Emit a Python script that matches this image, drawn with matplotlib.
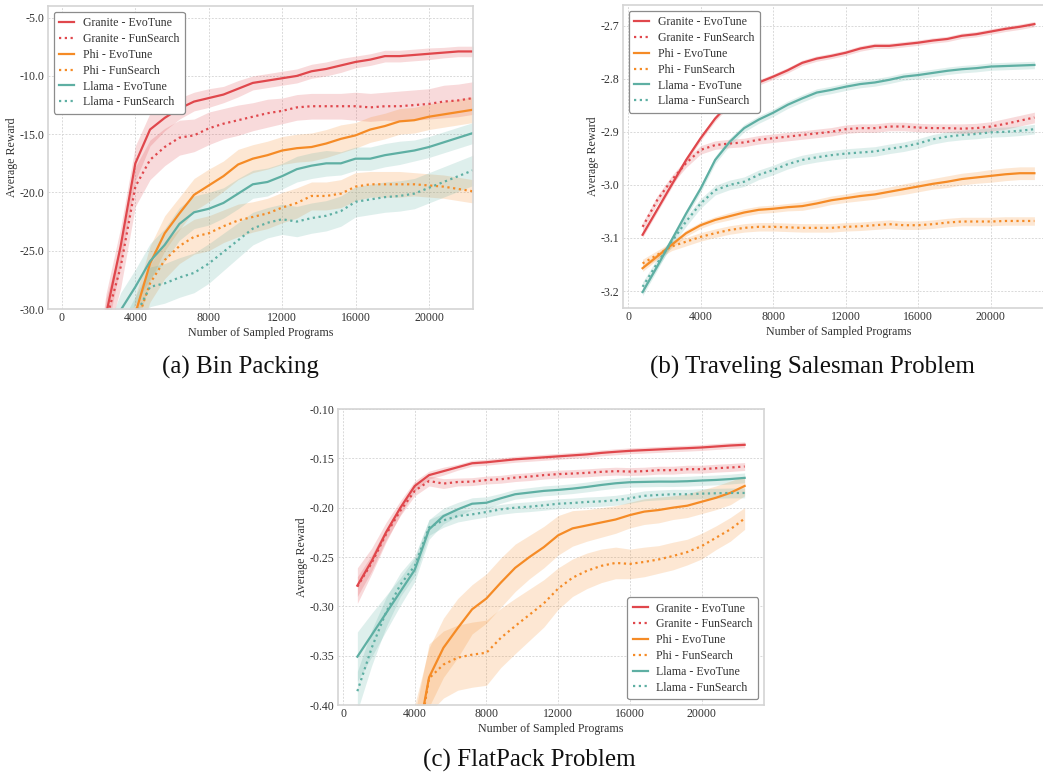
import matplotlib
matplotlib.use("Agg")
import matplotlib.pyplot as plt
from matplotlib.ticker import FormatStrFormatter

plt.rcParams['font.family'] = ['Liberation Serif', 'DejaVu Serif']
plt.rcParams['axes.unicode_minus'] = False

# ---------------- data ----------------
steps = [800, 1600, 2400, 3200, 4000, 4800, 5600, 6400, 7200, 8000, 8800, 9600, 10400, 11200,
         12000, 12800, 13600, 14400, 15200, 16000, 16800, 17600, 18400, 19200, 20000, 20800, 21600, 22400]

labels = ["Granite - EvoTune", "Granite - FunSearch", "Phi - EvoTune",
          "Phi - FunSearch", "Llama - EvoTune", "Llama - FunSearch"]

# (a) Bin Packing
bin_granite_evo = [-48.0, -40.0, -30.5, -24.6, -17.5, -14.6, -13.6, -12.8, -12.2, -11.9, -11.6, -11.1, -10.6, -10.4,
                   -10.2, -10.0, -9.6, -9.4, -9.1, -8.8, -8.6, -8.3, -8.3, -8.2, -8.1, -8.0, -7.9, -7.9]
bin_granite_fun = [-50.0, -42.0, -31.0, -26.4, -19.5, -17.2, -16.1, -15.3, -15.1, -14.5, -14.1, -13.8, -13.5, -13.2,
                   -13.0, -12.7, -12.6, -12.6, -12.6, -12.6, -12.7, -12.6, -12.6, -12.5, -12.4, -12.2, -12.1, -11.9]
bin_phi_evo = [-60.0, -52.0, -44.0, -37.0, -30.4, -26.1, -23.5, -21.8, -20.2, -19.4, -18.6, -17.6, -17.1, -16.8,
               -16.4, -16.2, -16.1, -15.8, -15.4, -15.1, -14.6, -14.3, -13.9, -13.8, -13.5, -13.3, -13.1, -12.9]
bin_phi_fun = [-62.0, -54.0, -46.0, -38.0, -31.5, -27.8, -25.8, -24.6, -23.8, -23.5, -22.9, -22.4, -22.1, -21.8,
               -21.3, -20.9, -20.3, -20.3, -20.1, -19.5, -19.3, -19.3, -19.3, -19.3, -19.4, -19.5, -19.7, -19.9]
bin_llama_evo = [-40.0, -37.0, -33.5, -30.1, -28.1, -25.9, -24.5, -22.7, -21.7, -21.4, -20.9, -20.1, -19.3, -19.1,
                 -18.6, -18.0, -17.7, -17.5, -17.5, -17.1, -17.1, -16.8, -16.6, -16.4, -16.1, -15.7, -15.3, -14.9]
bin_llama_fun = [-45.0, -41.0, -37.0, -33.0, -30.6, -28.1, -27.8, -27.3, -26.9, -26.1, -25.1, -24.1, -23.1, -22.6,
                 -22.3, -22.5, -22.2, -22.0, -21.6, -20.8, -20.6, -20.4, -20.3, -20.1, -19.6, -19.1, -18.6, -18.1]

bin_granite_evo_sd = [2.0, 2.0, 1.8, 1.6, 1.5, 1.4, 1.1, 0.9, 0.8, 0.8, 0.7, 0.7, 0.6, 0.6,
                      0.6, 0.6, 0.6, 0.6, 0.6, 0.5, 0.5, 0.5, 0.5, 0.5, 0.5, 0.45, 0.45, 0.45]
bin_granite_fun_sd = [2.0, 2.0, 1.9, 1.8, 1.7, 1.7, 1.6, 1.5, 1.4, 1.4, 1.3, 1.3, 1.2, 1.2,
                      1.1, 1.1, 1.1, 1.1, 1.1, 1.2, 1.2, 1.2, 1.3, 1.3, 1.3, 1.4, 1.4, 1.4]
bin_phi_evo_sd = [1.5, 1.5, 1.5, 1.5, 1.5, 1.5, 1.5, 1.4, 1.4, 1.4, 1.3, 1.3, 1.2, 1.2,
                  1.2, 1.2, 1.2, 1.2, 1.2, 1.1, 1.1, 1.1, 1.1, 1.1, 1.1, 1.1, 1.1, 1.1]
bin_phi_fun_sd = [1.6, 1.6, 1.6, 1.6, 1.6, 1.6, 1.6, 1.5, 1.5, 1.5, 1.4, 1.4, 1.3, 1.3,
                  1.3, 1.3, 1.2, 1.2, 1.2, 1.2, 1.1, 1.1, 1.1, 1.0, 1.0, 1.0, 1.0, 1.0]
bin_llama_evo_sd = [1.5, 1.5, 1.5, 1.5, 1.5, 1.5, 1.4, 1.4, 1.4, 1.4, 1.3, 1.3, 1.2, 1.2,
                    1.1, 1.1, 1.1, 1.1, 1.0, 1.0, 1.0, 1.0, 1.0, 0.9, 0.9, 0.9, 0.9, 0.9]
bin_llama_fun_sd = [1.7, 1.7, 1.7, 1.7, 1.7, 1.7, 1.7, 1.7, 1.7, 1.7, 1.6, 1.5, 1.4, 1.3,
                    1.3, 1.3, 1.3, 1.3, 1.3, 1.3, 1.3, 1.3, 1.3, 1.3, 1.3, 1.3, 1.3, 1.3]

# (b) Traveling Salesman Problem
tsp_granite_evo = [-3.094, -3.047, -3.000, -2.953, -2.912, -2.875, -2.846, -2.822, -2.807, -2.796, -2.784, -2.770,
                   -2.762, -2.757, -2.751, -2.743, -2.738, -2.738, -2.735, -2.732, -2.728, -2.725, -2.719, -2.716,
                   -2.711, -2.706, -2.702, -2.697]
tsp_granite_fun = [-3.079, -3.029, -2.991, -2.959, -2.934, -2.925, -2.922, -2.920, -2.915, -2.912, -2.909, -2.906,
                   -2.903, -2.900, -2.895, -2.893, -2.893, -2.890, -2.890, -2.892, -2.893, -2.893, -2.894, -2.893,
                   -2.890, -2.885, -2.879, -2.873]
tsp_phi_evo = [-3.157, -3.135, -3.113, -3.091, -3.076, -3.066, -3.059, -3.052, -3.047, -3.045, -3.042, -3.040,
               -3.035, -3.029, -3.025, -3.021, -3.018, -3.013, -3.008, -3.003, -2.998, -2.994, -2.989, -2.986,
               -2.983, -2.980, -2.978, -2.978]
tsp_phi_fun = [-3.148, -3.132, -3.116, -3.107, -3.098, -3.091, -3.085, -3.081, -3.079, -3.079, -3.080, -3.081,
               -3.081, -3.081, -3.079, -3.078, -3.076, -3.074, -3.076, -3.076, -3.074, -3.071, -3.069, -3.069,
               -3.069, -3.068, -3.068, -3.068]
tsp_llama_evo = [-3.202, -3.154, -3.104, -3.054, -3.007, -2.953, -2.919, -2.893, -2.877, -2.864, -2.849, -2.837,
                 -2.826, -2.821, -2.815, -2.810, -2.807, -2.802, -2.796, -2.793, -2.789, -2.785, -2.782, -2.780,
                 -2.777, -2.776, -2.775, -2.774]
tsp_llama_fun = [-3.192, -3.148, -3.107, -3.069, -3.035, -3.010, -3.000, -2.994, -2.981, -2.972, -2.961, -2.953,
                 -2.948, -2.944, -2.941, -2.939, -2.937, -2.932, -2.928, -2.922, -2.914, -2.909, -2.906, -2.904,
                 -2.901, -2.900, -2.898, -2.895]

tsp_granite_evo_sd = [0.005] * 28
tsp_granite_fun_sd = [0.008, 0.008, 0.008, 0.008, 0.008, 0.008, 0.008, 0.008, 0.008, 0.008, 0.008, 0.008, 0.008, 0.008,
                      0.008, 0.008, 0.008, 0.008, 0.008, 0.008, 0.008, 0.008, 0.009, 0.009, 0.009, 0.010, 0.010, 0.010]
tsp_phi_evo_sd = [0.006, 0.006, 0.006, 0.006, 0.006, 0.006, 0.007, 0.007, 0.007, 0.007, 0.007, 0.008, 0.008, 0.008,
                  0.008, 0.009, 0.009, 0.009, 0.010, 0.010, 0.010, 0.011, 0.011, 0.011, 0.012, 0.012, 0.012, 0.012]
tsp_phi_fun_sd = [0.008] * 28
tsp_llama_evo_sd = [0.007] * 28
tsp_llama_fun_sd = [0.009] * 28

# (c) FlatPack Problem
fp_granite_evo = [-0.279, -0.254, -0.225, -0.200, -0.178, -0.167, -0.163, -0.159, -0.155, -0.154, -0.1525, -0.151,
                  -0.150, -0.149, -0.148, -0.147, -0.146, -0.1445, -0.1434, -0.1424, -0.1417, -0.141, -0.1403,
                  -0.1397, -0.139, -0.138, -0.137, -0.1363]
fp_granite_fun = [-0.280, -0.256, -0.227, -0.203, -0.183, -0.173, -0.1756, -0.174, -0.1736, -0.172, -0.1712,
                  -0.1695, -0.1685, -0.167, -0.166, -0.1654, -0.1647, -0.1637, -0.163, -0.1634, -0.163, -0.162,
                  -0.162, -0.161, -0.161, -0.160, -0.1593, -0.1583]
fp_phi_evo = [-0.60, -0.56, -0.52, -0.49, -0.45, -0.372, -0.342, -0.322, -0.303, -0.292, -0.276, -0.261, -0.250,
              -0.240, -0.228, -0.221, -0.218, -0.215, -0.212, -0.2075, -0.204, -0.2024, -0.200, -0.198, -0.194,
              -0.190, -0.185, -0.178]
fp_phi_fun = [-0.62, -0.58, -0.54, -0.50, -0.46, -0.373, -0.359, -0.352, -0.349, -0.347, -0.332, -0.320, -0.3085,
              -0.297, -0.282, -0.271, -0.264, -0.259, -0.256, -0.257, -0.255, -0.2525, -0.249, -0.245, -0.239,
              -0.2305, -0.222, -0.211]
fp_llama_evo = [-0.351, -0.329, -0.307, -0.285, -0.263, -0.222, -0.2085, -0.2017, -0.196, -0.195, -0.1905, -0.1864,
                -0.1847, -0.183, -0.182, -0.1807, -0.179, -0.177, -0.1753, -0.1742, -0.1739, -0.1736, -0.1736,
                -0.1732, -0.1725, -0.1719, -0.171, -0.1698]
fp_llama_fun = [-0.386, -0.342, -0.306, -0.278, -0.259, -0.220, -0.2129, -0.2085, -0.2068, -0.2044, -0.2017, -0.200,
                -0.199, -0.1976, -0.196, -0.1953, -0.1942, -0.1936, -0.1925, -0.1905, -0.188, -0.1871, -0.1864,
                -0.1864, -0.1858, -0.1854, -0.1851, -0.1851]

fp_granite_evo_sd = [0.018, 0.013, 0.010, 0.007, 0.005, 0.004, 0.004, 0.003, 0.003, 0.003, 0.003, 0.003, 0.003, 0.003,
                     0.003, 0.003, 0.003, 0.003, 0.003, 0.003, 0.003, 0.003, 0.003, 0.003, 0.003, 0.003, 0.003, 0.003]
fp_granite_fun_sd = [0.010, 0.008, 0.006, 0.005, 0.005, 0.005, 0.005, 0.004, 0.004, 0.004, 0.004, 0.004, 0.004, 0.004,
                     0.004, 0.004, 0.004, 0.004, 0.004, 0.004, 0.004, 0.004, 0.004, 0.004, 0.004, 0.004, 0.004, 0.004]
fp_phi_evo_sd = [0.05, 0.05, 0.05, 0.05, 0.05, 0.030, 0.030, 0.030, 0.025, 0.025, 0.025, 0.024, 0.022, 0.021,
                 0.020, 0.018, 0.016, 0.015, 0.014, 0.013, 0.013, 0.013, 0.012, 0.012, 0.012, 0.012, 0.012, 0.010]
fp_phi_fun_sd = [0.05, 0.05, 0.05, 0.05, 0.05, 0.035, 0.034, 0.033, 0.033, 0.033, 0.030, 0.028, 0.026, 0.024,
                 0.021, 0.019, 0.018, 0.017, 0.016, 0.015, 0.015, 0.014, 0.014, 0.013, 0.013, 0.012, 0.012, 0.011]
fp_llama_evo_sd = [0.025, 0.022, 0.018, 0.014, 0.012, 0.010, 0.008, 0.007, 0.006, 0.006, 0.005, 0.005, 0.005, 0.005,
                   0.005, 0.005, 0.005, 0.005, 0.005, 0.005, 0.005, 0.005, 0.005, 0.005, 0.005, 0.005, 0.005, 0.005]
fp_llama_fun_sd = [0.020, 0.018, 0.015, 0.012, 0.010, 0.008, 0.007, 0.006, 0.005, 0.005, 0.005, 0.005, 0.005, 0.005,
                   0.005, 0.005, 0.005, 0.005, 0.005, 0.005, 0.005, 0.005, 0.005, 0.005, 0.005, 0.005, 0.005, 0.005]

x_ticks = [0, 4000, 8000, 12000, 16000, 20000]
bin_yticks = [-30, -25, -20, -15, -10, -5]
tsp_yticks = [-3.2, -3.1, -3.0, -2.9, -2.8, -2.7]
fp_yticks = [-0.40, -0.35, -0.30, -0.25, -0.20, -0.15, -0.10]

captions = ["(a) Bin Packing", "(b) Traveling Salesman Problem", "(c) FlatPack Problem"]

# ---------------- style ----------------
RED = '#e0474c'
ORANGE = '#f58b26'
TEAL = '#5eafa3'
colors = [RED, RED, ORANGE, ORANGE, TEAL, TEAL]
styles = ['-', (0, (1, 1.6)), '-', (0, (1, 1.6)), '-', (0, (1, 1.6))]
FS = 8.6

W, H = 1043, 777
fig = plt.figure(figsize=(W / 100, H / 100), dpi=100)


def px_axes(left, top, right, bottom):
    return fig.add_axes([left / W, (H - bottom) / H, (right - left) / W, (bottom - top) / H])


def draw(ax, series, sds, xlim, ylim, yticks, yfmt, legend_loc):
    for i, (ys, sd) in enumerate(zip(series, sds)):
        lo = [m - s for m, s in zip(ys, sd)]
        hi = [m + s for m, s in zip(ys, sd)]
        ax.fill_between(steps, lo, hi, color=colors[i], alpha=0.2, linewidth=0)
    for i, ys in enumerate(series):
        ax.plot(steps, ys, color=colors[i], linestyle=styles[i], linewidth=1.6, label=labels[i])
    ax.set_xlim(*xlim)
    ax.set_ylim(*ylim)
    ax.set_xticks(x_ticks)
    ax.set_yticks(yticks)
    ax.yaxis.set_major_formatter(FormatStrFormatter(yfmt))
    ax.grid(True, color='#d9d9d9', linestyle=(0, (2, 1.5)), linewidth=0.7)
    ax.set_axisbelow(True)
    for sp in ax.spines.values():
        sp.set_color('#d4d4d4')
        sp.set_linewidth(1.2)
    ax.tick_params(axis='both', length=0, pad=2.5, labelsize=FS, colors='#333333')
    ax.set_xlabel("Number of Sampled Programs", fontsize=FS, color='#333333', labelpad=2)
    ax.set_ylabel("Average Reward", fontsize=FS, color='#333333', labelpad=1)
    leg = ax.legend(loc=legend_loc, fontsize=FS, handlelength=1.25, handletextpad=0.7,
                    labelspacing=0.32, borderpad=0.45, frameon=True, fancybox=True, framealpha=1.0)
    leg.get_frame().set_edgecolor('#8c8c8c')
    leg.get_frame().set_linewidth(0.9)
    for t in leg.get_texts():
        t.set_color('#333333')


ax_a = px_axes(48, 6, 473, 309)
draw(ax_a,
     [bin_granite_evo, bin_granite_fun, bin_phi_evo, bin_phi_fun, bin_llama_evo, bin_llama_fun],
     [bin_granite_evo_sd, bin_granite_fun_sd, bin_phi_evo_sd, bin_phi_fun_sd, bin_llama_evo_sd, bin_llama_fun_sd],
     (-760, 22400), (-30, -4.0), bin_yticks, '%.1f', 'upper left')

ax_b = px_axes(623, 5, 1054, 308)
draw(ax_b,
     [tsp_granite_evo, tsp_granite_fun, tsp_phi_evo, tsp_phi_fun, tsp_llama_evo, tsp_llama_fun],
     [tsp_granite_evo_sd, tsp_granite_fun_sd, tsp_phi_evo_sd, tsp_phi_fun_sd, tsp_llama_evo_sd, tsp_llama_fun_sd],
     (-280, 23480), (-3.232, -2.661), tsp_yticks, '%.1f', 'upper left')

ax_c = px_axes(338, 409, 764, 705)
draw(ax_c,
     [fp_granite_evo, fp_granite_fun, fp_phi_evo, fp_phi_fun, fp_llama_evo, fp_llama_fun],
     [fp_granite_evo_sd, fp_granite_fun_sd, fp_phi_evo_sd, fp_phi_fun_sd, fp_llama_evo_sd, fp_llama_fun_sd],
     (-280, 23480), (-0.40, -0.10), fp_yticks, '%.2f', 'lower right')

cap_kw = dict(ha='center', va='center', fontsize=18, color='#111111', family=['Liberation Serif', 'DejaVu Serif'])
fig.text(240 / W, 1 - 367 / H, captions[0], **cap_kw)
fig.text(812 / W, 1 - 367 / H, captions[1], **cap_kw)
fig.text(529 / W, 1 - 760 / H, captions[2], **cap_kw)

fig.savefig("out.png", dpi=100)
